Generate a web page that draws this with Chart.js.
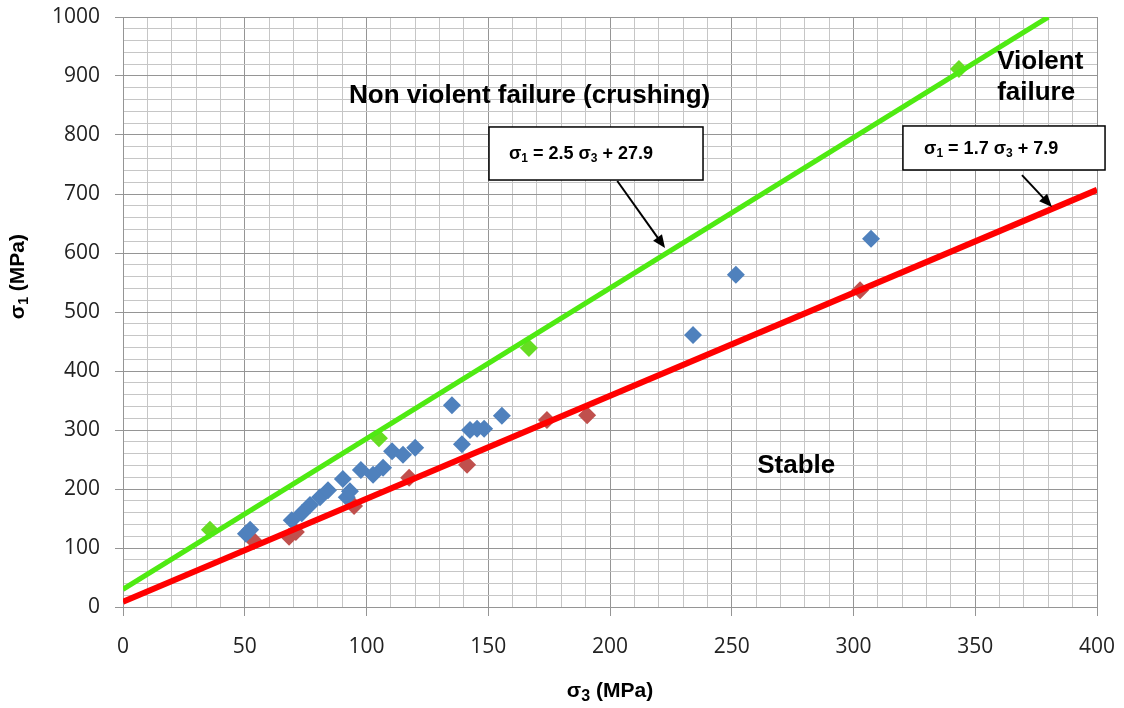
<!DOCTYPE html>
<html>
<head>
<meta charset="utf-8">
<script src="https://cdn.jsdelivr.net/npm/chart.js@4.4.1/dist/chart.umd.min.js"></script>
<style>
  html, body { margin: 0; padding: 0; background: #fff; }
</style>
</head>
<body>
<canvas id="stressChart" width="1124" height="708"></canvas>
<script>
// measured points (sigma3, sigma1) in MPa
const blueX = [50.5, 52.2, 69.3, 73.4, 76.8, 80.9, 84.2, 90.3, 91.9, 93.2, 97.7, 102.7, 106.8, 110.5, 115.0, 120.0, 135.1, 139.2, 142.5, 145.4, 148.3, 155.6, 234.1, 251.7, 307.2];
const blueY = [124, 131, 147, 159, 173, 186, 198, 217, 186, 196, 232, 224, 236, 264, 258, 270, 342, 276, 300, 302, 302, 324, 461, 563, 624];

const redX = [53.8, 68.2, 71.0, 94.9, 117.5, 141.3, 174.1, 190.6, 302.7];
const redY = [112, 119, 127, 171, 219, 241, 317, 325, 537];

const greenX = [35.7, 105.1, 166.7, 343.3];
const greenY = [131, 286, 439, 912];

// boundary lines
const violentLineX = [0, 380];
const violentLineY = [30, 1000];
const stableLineX = [0, 400];
const stableLineY = [9, 707];

const xTicks = [0, 50, 100, 150, 200, 250, 300, 350, 400];
const yTicks = [0, 100, 200, 300, 400, 500, 600, 700, 800, 900, 1000];

const toPoints = (xs, ys) => xs.map((v, i) => ({ x: v, y: ys[i] }));

// labels and callouts, placed in data units
const labels = [
  { lines: ["Non violent failure (crushing)"], x: 167, y: 866, align: "center" },
  { lines: ["Violent", "failure"], x: 359, y: 924, align: "left" },
  { lines: ["Stable"], x: 276.5, y: 239, align: "center" },
];
const callouts = [
  {
    box: [150.3, 813.6, 238.2, 723.7],
    parts: [["σ"], ["1", true], [" = 2.5 "], ["σ"], ["3", true], [" + 27.9"]],
    textX: 158.5,
    from: [203, 722], to: [222.6, 608.5],
  },
  {
    box: [320.3, 815.3, 403.3, 740.7],
    parts: [["σ"], ["1", true], [" = 1.7 "], ["σ"], ["3", true], [" + 7.9"]],
    textX: 329,
    from: [369.2, 732], to: [381.5, 678],
  },
];

const BOLD = "'Liberation Sans', Arial, sans-serif";

function drawRich(ctx, parts, x, y, size, align, subSize, subDrop) {
  const font = "bold " + size + "px " + BOLD;
  const subFont = "bold " + subSize + "px " + BOLD;
  let total = 0;
  parts.forEach((p) => {
    ctx.font = p[1] ? subFont : font;
    total += ctx.measureText(p[0]).width;
  });
  let cx = align === "center" ? x - total / 2 : x;
  ctx.textAlign = "left";
  ctx.textBaseline = "alphabetic";
  parts.forEach((p) => {
    ctx.font = p[1] ? subFont : font;
    ctx.fillText(p[0], cx, p[1] ? y + subDrop : y);
    cx += ctx.measureText(p[0]).width;
  });
}

function arrow(ctx, x1, y1, x2, y2) {
  const ang = Math.atan2(y2 - y1, x2 - x1);
  const head = 14;
  ctx.strokeStyle = "#000";
  ctx.fillStyle = "#000";
  ctx.lineWidth = 2;
  ctx.beginPath();
  ctx.moveTo(x1, y1);
  ctx.lineTo(x2 - Math.cos(ang) * head * 0.8, y2 - Math.sin(ang) * head * 0.8);
  ctx.stroke();
  ctx.beginPath();
  ctx.moveTo(x2, y2);
  ctx.lineTo(x2 - head * Math.cos(ang - 0.4), y2 - head * Math.sin(ang - 0.4));
  ctx.lineTo(x2 - head * Math.cos(ang + 0.4), y2 - head * Math.sin(ang + 0.4));
  ctx.closePath();
  ctx.fill();
}

const notes = {
  id: "notes",
  afterDraw(chart) {
    const ctx = chart.ctx;
    const { x, y } = chart.scales;
    const area = chart.chartArea;
    ctx.save();
    ctx.fillStyle = "#000";

    labels.forEach((l) => {
      ctx.font = "bold 26px " + BOLD;
      ctx.textAlign = l.align;
      ctx.textBaseline = "middle";
      l.lines.forEach((t, i) => {
        ctx.fillText(t, x.getPixelForValue(l.x), y.getPixelForValue(l.y) + i * 31);
      });
    });

    callouts.forEach((c) => {
      const left = x.getPixelForValue(c.box[0]);
      const top = y.getPixelForValue(c.box[1]);
      const right = x.getPixelForValue(c.box[2]);
      const bottom = y.getPixelForValue(c.box[3]);
      ctx.fillStyle = "#fff";
      ctx.fillRect(left, top, right - left, bottom - top);
      ctx.strokeStyle = "#000";
      ctx.lineWidth = 1.5;
      ctx.strokeRect(left, top, right - left, bottom - top);
      ctx.fillStyle = "#000";
      drawRich(ctx, c.parts, x.getPixelForValue(c.textX), (top + bottom) / 2 + 6, 18, "left", 12, 3);
      arrow(ctx, x.getPixelForValue(c.from[0]), y.getPixelForValue(c.from[1]),
        x.getPixelForValue(c.to[0]), y.getPixelForValue(c.to[1]));
    });

    // axis titles
    ctx.fillStyle = "#000";
    drawRich(ctx, [["σ"], ["3", true], [" (MPa)"]], (area.left + area.right) / 2, 697, 21, "center", 16, 4);
    ctx.translate(24, y.getPixelForValue(560));
    ctx.rotate(-Math.PI / 2);
    drawRich(ctx, [["σ"], ["1", true], [" (MPa)"]], 0, 0, 21, "center", 14, 4);
    ctx.restore();
  },
};

const gridColor = (ctx, step) =>
  ctx.tick && ctx.tick.value % step === 0 ? "#959595" : "#c6c6c6";
const tickColor = (ctx, step) =>
  ctx.tick && ctx.tick.value % step === 0 ? "#959595" : "rgba(0,0,0,0)";

new Chart(document.getElementById("stressChart"), {
  type: "scatter",
  data: {
    datasets: [
      {
        label: "Violent failure boundary",
        data: toPoints(violentLineX, violentLineY),
        showLine: true,
        borderColor: "#4FEA12",
        borderWidth: 5,
        pointRadius: 0,
        order: 0,
      },
      {
        label: "Stable boundary",
        data: toPoints(stableLineX, stableLineY),
        showLine: true,
        borderColor: "#FF0000",
        borderWidth: 6,
        pointRadius: 0,
        order: 0,
      },
      {
        label: "Non violent",
        data: toPoints(blueX, blueY),
        pointStyle: "rectRot",
        pointRadius: 9,
        pointBorderWidth: 0,
        backgroundColor: "#4F81BD",
        order: 1,
      },
      {
        label: "Stable",
        data: toPoints(redX, redY),
        pointStyle: "rectRot",
        pointRadius: 9,
        pointBorderWidth: 0,
        backgroundColor: "#C0504D",
        order: 1,
      },
      {
        label: "Violent",
        data: toPoints(greenX, greenY),
        pointStyle: "rectRot",
        pointRadius: 9,
        pointBorderWidth: 0,
        backgroundColor: "#66DD22",
        order: 1,
      },
    ],
  },
  options: {
    responsive: false,
    animation: false,
    layout: { padding: { top: 17, right: 27, left: 0, bottom: 0 } },
    plugins: {
      legend: { display: false },
      tooltip: { enabled: false },
    },
    scales: {
      x: {
        type: "linear",
        min: 0,
        max: 400,
        afterFit: (scale) => {
          scale.height = 101;
          scale.paddingLeft = 0;
          scale.paddingRight = 0;
        },
        border: { color: "#959595" },
        grid: {
          color: (ctx) => gridColor(ctx, 50),
          tickColor: (ctx) => tickColor(ctx, 50),
          tickLength: 9,
        },
        ticks: {
          stepSize: 10,
          autoSkip: false,
          maxRotation: 0,
          padding: 18,
          color: "#222",
          font: { family: "'Open Sans'", size: 21 },
          callback: (v) => (xTicks.includes(v) ? v : ""),
        },
      },
      y: {
        type: "linear",
        min: 0,
        max: 1000,
        afterFit: (scale) => {
          scale.width = 123;
          scale.paddingTop = 0;
          scale.paddingBottom = 0;
        },
        border: { color: "#959595" },
        grid: {
          color: (ctx) => gridColor(ctx, 100),
          tickColor: (ctx) => tickColor(ctx, 100),
          tickLength: 8,
        },
        ticks: {
          stepSize: 20,
          autoSkip: false,
          padding: 15,
          color: "#222",
          font: { family: "'Open Sans'", size: 21 },
          callback: (v) => (yTicks.includes(v) ? v : ""),
        },
      },
    },
  },
  plugins: [notes],
});
</script>
</body>
</html>
